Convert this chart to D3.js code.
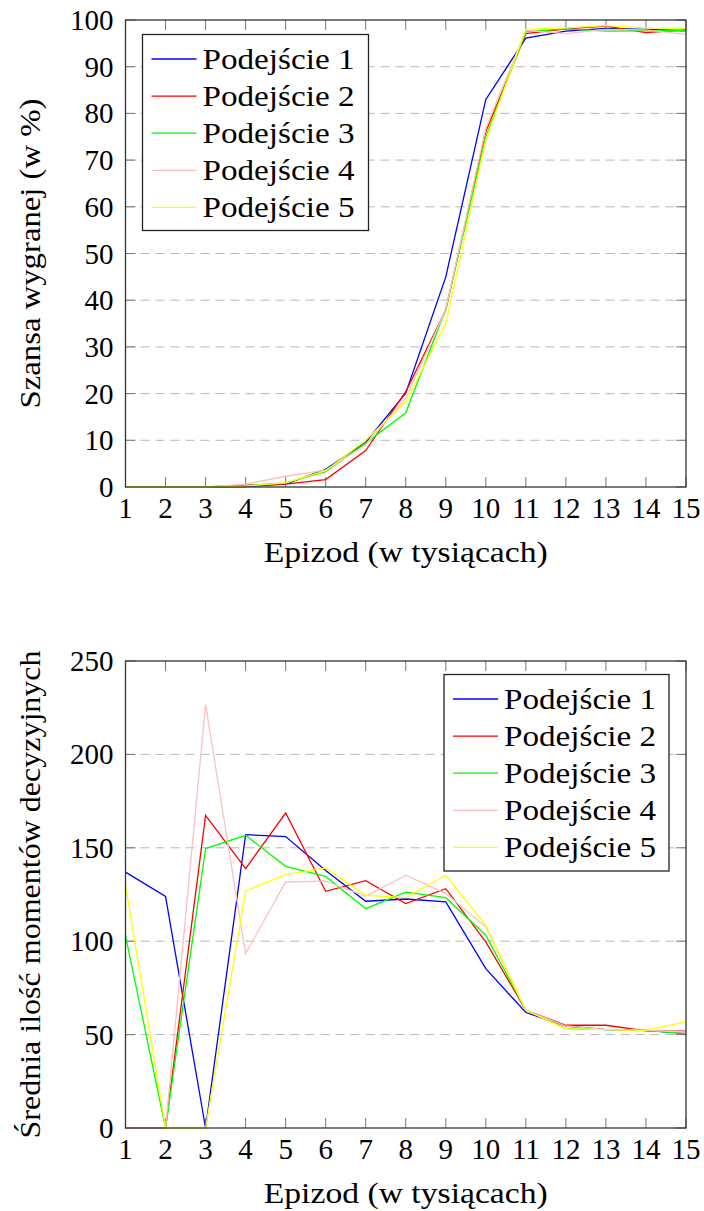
<!DOCTYPE html>
<html>
<head>
<meta charset="utf-8">
<script src="https://cdn.jsdelivr.net/npm/d3@7/dist/d3.min.js"></script>
<style>
  html, body { margin: 0; padding: 0; background: #fff; }
</style>
</head>
<body>
<svg id="chart" width="704" height="1211"></svg>
<script>
// Episodes (thousands) on the x axis of both panels
const episodes = [1, 2, 3, 4, 5, 6, 7, 8, 9, 10, 11, 12, 13, 14, 15];
const seriesNames = ["Podejście 1", "Podejście 2", "Podejście 3", "Podejście 4", "Podejście 5"];
const seriesColors = ["#0000ff", "#ff0000", "#00ff00", "#ffbfbf", "#ffff00"];

// Win rate (%) per approach
const win1 = [0, 0, 0, 0.1, 0.6, 3.8, 9.6, 20.1, 45.0, 83.0, 96.1, 97.6, 98.2, 98.0, 97.7];
const win2 = [0, 0, 0, 0.4, 0.6, 1.6, 7.8, 20.4, 37.9, 76.1, 97.1, 98.1, 98.7, 97.3, 97.9];
const win3 = [0, 0, 0, 0.3, 0.9, 3.3, 9.4, 15.9, 38.1, 75.0, 97.5, 98.1, 97.6, 97.7, 97.7];
const win4 = [0, 0, 0, 0.6, 2.3, 3.6, 9.0, 19.0, 38.0, 76.8, 97.8, 97.1, 98.0, 97.9, 96.9];
const win5 = [0, 0, 0, 0.2, 0.9, 3.5, 10.0, 18.3, 35.0, 74.3, 98.0, 98.3, 98.8, 98.3, 98.2];

// Average number of decision points per approach
const dec1 = [137.0, 124.0, 0, 157.0, 156.0, 137.9, 121.4, 122.6, 121.0, 85.3, 61.8, 54.6, 52.7, 52.3, 50.5];
const dec2 = [0, 0, 167.4, 138.9, 168.6, 126.7, 132.4, 120.1, 128.1, 99.6, 63.0, 55.0, 55.0, 52.0, 51.9];
const dec3 = [103.0, 0, 149.6, 156.7, 140.1, 134.7, 117.4, 126.3, 123.3, 103.2, 63.0, 53.2, 52.7, 52.3, 50.5];
const dec4 = [0, 0, 226.6, 93.4, 131.7, 132.2, 124.0, 135.3, 125.5, 107.6, 63.0, 54.6, 52.7, 52.3, 51.4];
const dec5 = [130.0, 0, 0, 126.9, 135.6, 139.2, 124.6, 123.3, 135.3, 108.5, 63.0, 53.2, 52.7, 52.3, 56.8];

const winTicks = [0, 10, 20, 30, 40, 50, 60, 70, 80, 90, 100];
const decTicks = [0, 50, 100, 150, 200, 250];

const FONT = 29;
const FAMILY = "Liberation Serif";

const svg = d3.select("#chart").style("font-family", FAMILY);

function drawPanel(cfg) {
  const x = d3.scaleLinear().domain([1, 15]).range([cfg.left, cfg.right]);
  const y = d3.scaleLinear().domain(cfg.yDomain).range([cfg.bottom, cfg.top]);
  const g = svg.append("g");

  // dashed horizontal grid
  g.append("g").selectAll("line")
    .data(cfg.yTicks.filter(t => t > cfg.yDomain[0] && t < cfg.yDomain[1]))
    .join("line")
    .attr("x1", cfg.left).attr("x2", cfg.right)
    .attr("y1", d => y(d)).attr("y2", d => y(d))
    .attr("stroke", "#b8b8b8").attr("stroke-width", 1)
    .attr("stroke-dasharray", "9,6");

  // tick marks pointing inward on all four sides
  const tl = 10;
  const xt = g.append("g").attr("stroke", "#777").attr("stroke-width", 1);
  xt.selectAll("line.b").data(episodes).join("line").attr("class", "b")
    .attr("x1", d => x(d)).attr("x2", d => x(d))
    .attr("y1", cfg.bottom).attr("y2", cfg.bottom - tl);
  xt.selectAll("line.t").data(episodes).join("line").attr("class", "t")
    .attr("x1", d => x(d)).attr("x2", d => x(d))
    .attr("y1", cfg.top).attr("y2", cfg.top + tl);
  xt.selectAll("line.l").data(cfg.yTicks).join("line").attr("class", "l")
    .attr("x1", cfg.left).attr("x2", cfg.left + tl)
    .attr("y1", d => y(d)).attr("y2", d => y(d));
  xt.selectAll("line.r").data(cfg.yTicks).join("line").attr("class", "r")
    .attr("x1", cfg.right).attr("x2", cfg.right - tl)
    .attr("y1", d => y(d)).attr("y2", d => y(d));

  // data lines
  const line = d3.line().x((d, i) => x(episodes[i])).y(d => y(d));
  cfg.series.forEach((vals, i) => {
    g.append("path").datum(vals)
      .attr("d", line)
      .attr("fill", "none")
      .attr("stroke", seriesColors[i])
      .attr("stroke-width", 1.3);
  });

  // frame
  g.append("rect")
    .attr("x", cfg.left).attr("y", cfg.top)
    .attr("width", cfg.right - cfg.left).attr("height", cfg.bottom - cfg.top)
    .attr("fill", "none").attr("stroke", "#333").attr("stroke-width", 1.3);

  // tick labels
  g.append("g").selectAll("text").data(episodes).join("text")
    .attr("x", d => x(d)).attr("y", cfg.bottom + 31)
    .attr("text-anchor", "middle").attr("font-size", FONT)
    .text(d => d);
  g.append("g").selectAll("text").data(cfg.yTicks).join("text")
    .attr("x", cfg.left - 12).attr("y", d => y(d) + 10)
    .attr("text-anchor", "end").attr("font-size", FONT)
    .text(d => d);

  // axis titles
  g.append("text")
    .attr("x", (cfg.left + cfg.right) / 2).attr("y", cfg.bottom + 75)
    .attr("text-anchor", "middle").attr("font-size", FONT)
    .attr("textLength", 284).attr("lengthAdjust", "spacingAndGlyphs")
    .text("Epizod (w tysiącach)");
  g.append("text")
    .attr("transform", `translate(40,${(cfg.top + cfg.bottom) / 2}) rotate(-90)`)
    .attr("text-anchor", "middle").attr("font-size", FONT)
    .attr("textLength", cfg.yTitleLen).attr("lengthAdjust", "spacingAndGlyphs")
    .text(cfg.yTitle);

  // legend
  const lg = g.append("g");
  const rowH = 37.1;
  lg.append("rect")
    .attr("x", cfg.legend.x).attr("y", cfg.legend.y)
    .attr("width", cfg.legend.w).attr("height", cfg.legend.h)
    .attr("fill", "#fff").attr("stroke", "#222").attr("stroke-width", 1.3);
  seriesNames.forEach((name, i) => {
    const cy = cfg.legend.y + 24.5 + i * rowH;
    lg.append("line")
      .attr("x1", cfg.legend.x + 9).attr("x2", cfg.legend.x + 54)
      .attr("y1", cy).attr("y2", cy)
      .attr("stroke", seriesColors[i]).attr("stroke-width", 1.3);
    lg.append("text")
      .attr("x", cfg.legend.x + 60).attr("y", cy + 10)
      .attr("font-size", FONT)
      .attr("textLength", 152).attr("lengthAdjust", "spacingAndGlyphs")
      .text(name);
  });
}

drawPanel({
  left: 125.5, right: 686, top: 20, bottom: 487,
  yDomain: [0, 100], yTicks: winTicks,
  series: [win1, win2, win3, win4, win5],
  yTitle: "Szansa wygranej (w %)", yTitleLen: 310,
  legend: { x: 142.5, y: 34.5, w: 226, h: 196 }
});

drawPanel({
  left: 125.5, right: 686, top: 661, bottom: 1128,
  yDomain: [0, 250], yTicks: decTicks,
  series: [dec1, dec2, dec3, dec4, dec5],
  yTitle: "Średnia ilość momentów decyzyjnych", yTitleLen: 488,
  legend: { x: 444, y: 674.5, w: 225, h: 196.5 }
});
</script>
</body>
</html>
